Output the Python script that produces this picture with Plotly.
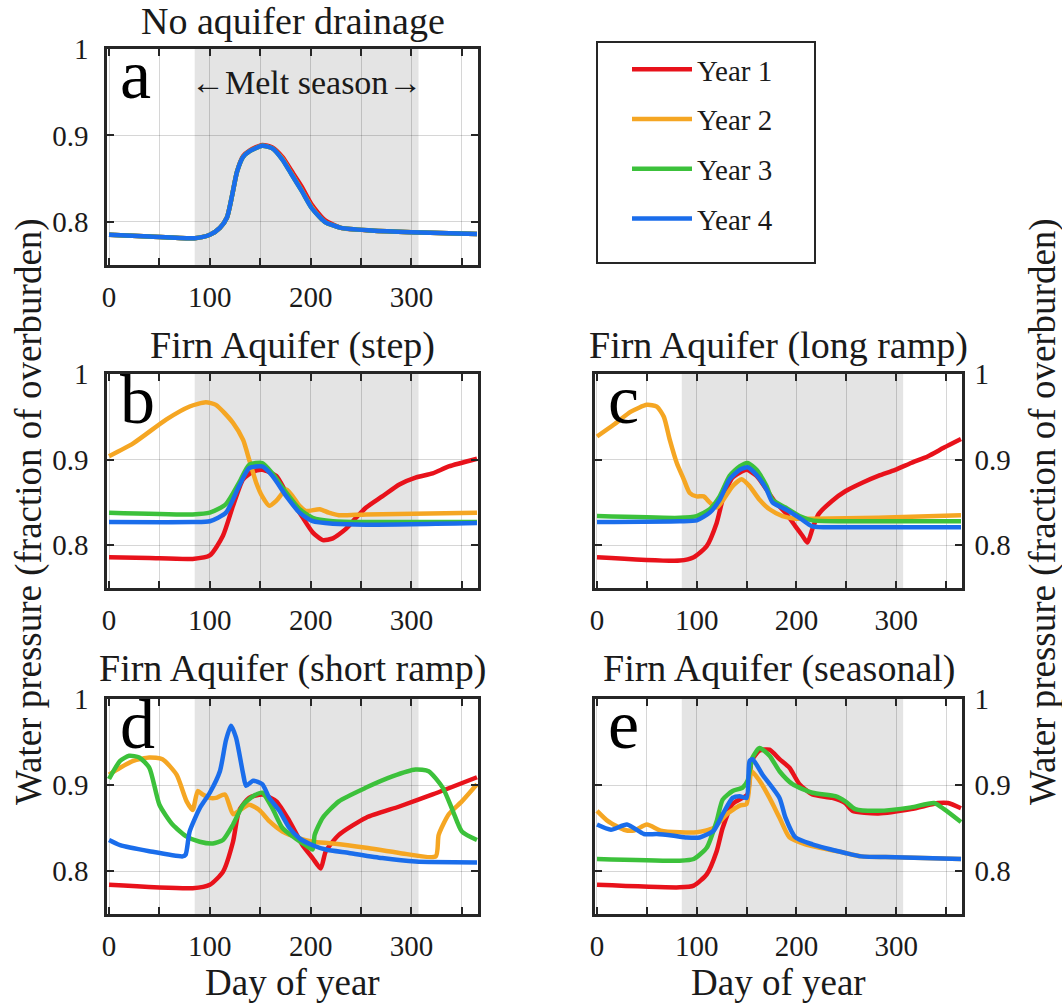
import plotly.graph_objects as go

# ---------------- data ----------------
years = ["Year 1", "Year 2", "Year 3", "Year 4"]
colors = ["#E8121B", "#F5A623", "#3CC13B", "#1A6DEB"]

# Panel a: no aquifer drainage
a_day = [0, 40, 85, 100, 110, 117, 122, 127, 133, 140, 152, 162, 172, 181, 191, 201, 214, 230, 260, 300, 365]
a_y1 = [0.785, 0.783, 0.781, 0.785, 0.793, 0.805, 0.830, 0.858, 0.876, 0.883, 0.889, 0.886, 0.875, 0.859, 0.841, 0.820, 0.802, 0.793, 0.790, 0.788, 0.786]
a_y2 = [0.785, 0.783, 0.781, 0.785, 0.793, 0.805, 0.830, 0.858, 0.875, 0.882, 0.888, 0.885, 0.873, 0.856, 0.837, 0.817, 0.800, 0.793, 0.790, 0.788, 0.786]
a_y3 = [0.785, 0.783, 0.781, 0.785, 0.793, 0.805, 0.830, 0.858, 0.875, 0.882, 0.888, 0.885, 0.872, 0.855, 0.836, 0.816, 0.800, 0.793, 0.790, 0.788, 0.786]
a_y4 = [0.785, 0.783, 0.781, 0.785, 0.793, 0.805, 0.830, 0.858, 0.875, 0.882, 0.888, 0.885, 0.872, 0.855, 0.836, 0.816, 0.800, 0.793, 0.790, 0.788, 0.786]

# Panel b: step
b_day_y1 = [0, 40, 83, 100, 113, 123, 133, 143, 152, 166, 176, 189, 202, 212, 222, 235, 245, 255, 271, 288, 304, 321, 337, 365]
b_y1 = [0.786, 0.785, 0.784, 0.788, 0.811, 0.846, 0.877, 0.886, 0.888, 0.881, 0.861, 0.838, 0.815, 0.806, 0.808, 0.819, 0.832, 0.844, 0.857, 0.871, 0.879, 0.884, 0.892, 0.901]
b_day_y2 = [0, 24, 57, 80, 96, 106, 123, 133, 139, 146, 152, 159, 166, 176, 189, 195, 209, 218, 228, 255, 365]
b_y2 = [0.904, 0.919, 0.947, 0.962, 0.967, 0.964, 0.943, 0.923, 0.900, 0.873, 0.857, 0.846, 0.852, 0.865, 0.846, 0.840, 0.842, 0.838, 0.835, 0.836, 0.838]
b_day_y34 = [0, 83, 100, 116, 129, 139, 152, 162, 176, 189, 202, 222, 255, 365]
b_y3 = [0.838, 0.836, 0.838, 0.848, 0.873, 0.894, 0.896, 0.884, 0.861, 0.842, 0.832, 0.828, 0.827, 0.827]
b_y4 = [0.827, 0.827, 0.828, 0.838, 0.869, 0.890, 0.892, 0.881, 0.857, 0.838, 0.828, 0.825, 0.824, 0.826]

# Panel c: long ramp
c_day_y1 = [0, 83, 97, 110, 120, 126, 136, 150, 160, 170, 179, 189, 199, 206, 211, 216, 222, 236, 249, 266, 282, 299, 315, 332, 348, 365]
c_y1 = [0.786, 0.782, 0.786, 0.799, 0.826, 0.853, 0.879, 0.888, 0.881, 0.865, 0.850, 0.838, 0.822, 0.811, 0.803, 0.819, 0.836, 0.852, 0.863, 0.873, 0.881, 0.888, 0.896, 0.904, 0.914, 0.924]
c_day_y2 = [0, 17, 34, 50, 60, 67, 73, 80, 87, 93, 100, 107, 113, 120, 126, 136, 145, 153, 163, 173, 186, 199, 216, 282, 365]
c_y2 = [0.927, 0.941, 0.956, 0.964, 0.962, 0.950, 0.923, 0.896, 0.877, 0.861, 0.857, 0.857, 0.850, 0.844, 0.852, 0.869, 0.877, 0.869, 0.853, 0.842, 0.834, 0.831, 0.831, 0.832, 0.835]
c_day_y34 = [0, 83, 100, 113, 123, 133, 143, 151, 160, 170, 176, 189, 203, 216, 249, 365]
c_y3 = [0.834, 0.832, 0.834, 0.842, 0.857, 0.881, 0.892, 0.896, 0.888, 0.869, 0.853, 0.844, 0.834, 0.829, 0.828, 0.828]
c_y4 = [0.827, 0.828, 0.829, 0.838, 0.853, 0.877, 0.888, 0.891, 0.882, 0.865, 0.850, 0.842, 0.832, 0.822, 0.821, 0.821]

# Panel d: short ramp
d_day_y1 = [0, 83, 100, 113, 123, 129, 139, 152, 166, 179, 192, 202, 210, 215, 228, 255, 288, 321, 365]
d_y1 = [0.784, 0.780, 0.784, 0.799, 0.834, 0.870, 0.885, 0.889, 0.881, 0.858, 0.830, 0.815, 0.803, 0.823, 0.842, 0.862, 0.875, 0.889, 0.909]
d_day_y2 = [0, 11, 24, 40, 53, 67, 77, 83, 88, 93, 100, 106, 115, 123, 129, 139, 149, 159, 172, 189, 202, 222, 255, 288, 324, 327, 337, 350, 365]
d_y2 = [0.912, 0.920, 0.928, 0.932, 0.930, 0.912, 0.881, 0.871, 0.893, 0.889, 0.885, 0.885, 0.889, 0.866, 0.870, 0.877, 0.871, 0.858, 0.846, 0.838, 0.834, 0.832, 0.827, 0.821, 0.817, 0.842, 0.866, 0.881, 0.901]
d_day_y3 = [0, 11, 20, 30, 40, 50, 63, 77, 90, 103, 113, 123, 133, 143, 152, 162, 172, 185, 195, 202, 204, 212, 228, 255, 281, 304, 317, 331, 341, 350, 365]
d_y3 = [0.907, 0.928, 0.934, 0.932, 0.920, 0.877, 0.854, 0.840, 0.834, 0.832, 0.836, 0.854, 0.877, 0.887, 0.891, 0.873, 0.850, 0.838, 0.830, 0.825, 0.842, 0.862, 0.881, 0.897, 0.910, 0.918, 0.916, 0.897, 0.870, 0.846, 0.836]
d_day_y4 = [0, 11, 40, 73, 76, 80, 90, 100, 110, 116, 121, 126, 133, 136, 143, 152, 159, 169, 179, 189, 202, 215, 238, 271, 304, 365]
d_y4 = [0.836, 0.830, 0.823, 0.817, 0.819, 0.846, 0.873, 0.891, 0.916, 0.952, 0.969, 0.955, 0.913, 0.899, 0.905, 0.901, 0.885, 0.870, 0.850, 0.838, 0.830, 0.825, 0.821, 0.815, 0.811, 0.810]

# Panel e: seasonal
e_day_y1 = [0, 83, 97, 110, 120, 126, 136, 146, 151, 155, 163, 173, 183, 193, 203, 216, 236, 249, 256, 282, 315, 342, 352, 365]
e_y1 = [0.784, 0.781, 0.783, 0.796, 0.823, 0.850, 0.878, 0.885, 0.889, 0.928, 0.940, 0.941, 0.930, 0.920, 0.901, 0.889, 0.885, 0.879, 0.870, 0.867, 0.872, 0.879, 0.879, 0.873]
e_day_y2 = [0, 11, 27, 37, 50, 64, 83, 100, 117, 130, 143, 150, 155, 163, 173, 183, 193, 209, 249, 265, 299, 365]
e_y2 = [0.870, 0.858, 0.848, 0.847, 0.854, 0.847, 0.845, 0.845, 0.850, 0.866, 0.876, 0.878, 0.916, 0.905, 0.885, 0.862, 0.839, 0.831, 0.821, 0.817, 0.816, 0.814]
e_day_y3 = [0, 83, 97, 110, 120, 126, 136, 146, 151, 156, 163, 173, 183, 196, 216, 239, 249, 259, 282, 315, 338, 348, 365]
e_y3 = [0.814, 0.812, 0.814, 0.827, 0.858, 0.883, 0.893, 0.897, 0.905, 0.932, 0.943, 0.934, 0.916, 0.901, 0.891, 0.887, 0.881, 0.872, 0.870, 0.874, 0.879, 0.872, 0.857]
e_day_y4 = [0, 14, 30, 47, 60, 77, 90, 103, 117, 126, 136, 143, 150, 153, 156, 166, 183, 189, 199, 216, 249, 265, 299, 365]
e_y4 = [0.854, 0.848, 0.854, 0.843, 0.843, 0.841, 0.839, 0.839, 0.847, 0.866, 0.885, 0.887, 0.885, 0.928, 0.930, 0.912, 0.885, 0.862, 0.839, 0.831, 0.821, 0.817, 0.816, 0.814]

panel_titles = ["No aquifer drainage", "Firn Aquifer (step)", "Firn Aquifer (long ramp)",
                "Firn Aquifer (short ramp)", "Firn Aquifer (seasonal)"]
panel_letters = ["a", "b", "c", "d", "e"]
melt_start, melt_end = 85, 307
x_tickvals = [0, 50, 100, 150, 200, 250, 300, 350]
x_ticktext = ["0", "", "100", "", "200", "", "300", ""]
y_tickvals = [0.8, 0.9, 1.0]
y_ticktext = ["0.8", "0.9", "1"]
y_label = "Water pressure (fraction of overburden)"
x_label = "Day of year"

panels = [
    [(a_day, a_y1), (a_day, a_y2), (a_day, a_y3), (a_day, a_y4)],
    [(b_day_y1, b_y1), (b_day_y2, b_y2), (b_day_y34, b_y3), (b_day_y34, b_y4)],
    [(c_day_y1, c_y1), (c_day_y2, c_y2), (c_day_y34, c_y3), (c_day_y34, c_y4)],
    [(d_day_y1, d_y1), (d_day_y2, d_y2), (d_day_y3, d_y3), (d_day_y4, d_y4)],
    [(e_day_y1, e_y1), (e_day_y2, e_y2), (e_day_y3, e_y3), (e_day_y4, e_y4)],
]

# ---------------- layout geometry ----------------
W, H = 1062, 1005
FONT = "Liberation Serif"
INK = "#262626"
TXT = "#1a1a1a"

def px_x(p):
    return p / W

def px_y(p):
    return 1 - p / H

# (left, right, top, bottom) in pixels
boxes = [
    (107, 478, 49, 265),
    (107, 478, 374, 588),
    (595, 962, 374, 588),
    (107, 478, 699, 914),
    (595, 962, 699, 914),
]
right_side = [False, False, True, False, True]
title_mid = [21, 345, 345, 668, 668]
LETTER_SIZE = 70

fig = go.Figure()

for i, series in enumerate(panels):
    xa = "x" if i == 0 else f"x{i+1}"
    ya = "y" if i == 0 else f"y{i+1}"
    for j, (xd, yd) in enumerate(series):
        fig.add_trace(go.Scatter(
            x=xd, y=yd, mode="lines", xaxis=xa, yaxis=ya,
            line=dict(color=colors[j], width=4.5, shape="spline", smoothing=0.6),
            name=years[j], legendgroup=years[j], showlegend=(i == 0),
            hoverinfo="skip",
        ))

layout = dict(
    width=W, height=H,
    margin=dict(l=0, r=0, t=0, b=0, autoexpand=False),
    paper_bgcolor="white", plot_bgcolor="white",
    font=dict(family=FONT, size=29, color=TXT),
    showlegend=True,
    legend=dict(
        x=px_x(599), y=px_y(44), xanchor="left", yanchor="top",
        borderwidth=0, bgcolor="rgba(0,0,0,0)",
        font=dict(family=FONT, size=29, color=TXT),
        tracegroupgap=9, itemwidth=60, indentation=28,
    ),
)

shapes = []
annotations = []
for i, (l, r, t, b) in enumerate(boxes):
    k = "" if i == 0 else str(i + 1)
    layout[f"xaxis{k}"] = dict(
        domain=[px_x(l), px_x(r)], anchor=f"y{k}", range=[-2, 366],
        tickvals=x_tickvals, ticktext=x_ticktext, automargin=False,
        ticks="inside", ticklen=7, tickwidth=1.5, tickcolor=INK,
        showline=True, linecolor=INK, linewidth=2.5, mirror="ticks",
        showgrid=True, gridcolor="rgba(0,0,0,0.16)", gridwidth=1.2,
        zeroline=False, ticklabelstandoff=4,
        tickfont=dict(family=FONT, size=29, color=TXT),
    )
    layout[f"yaxis{k}"] = dict(
        domain=[px_y(b), px_y(t)], anchor=f"x{k}", range=[0.75, 1.0],
        tickvals=y_tickvals, ticktext=y_ticktext, automargin=False,
        side="right" if right_side[i] else "left",
        ticks="inside", ticklen=7, tickwidth=1.5, tickcolor=INK,
        showline=True, linecolor=INK, linewidth=2.5, mirror="ticks",
        showgrid=True, gridcolor="rgba(0,0,0,0.16)", gridwidth=1.2,
        zeroline=False, ticklabelstandoff=4 if right_side[i] else 10,
        tickfont=dict(family=FONT, size=29, color=TXT),
    )
    xr = "x" if i == 0 else f"x{i+1}"
    yr = "y" if i == 0 else f"y{i+1}"
    shapes.append(dict(
        type="rect", xref=xr, yref=f"{yr} domain", x0=melt_start, x1=melt_end, y0=0, y1=1,
        fillcolor="#e4e4e4", line=dict(width=0), layer="below",
    ))
    # panel title
    annotations.append(dict(
        text=panel_titles[i], xref="paper", yref="paper",
        x=px_x((l + r) / 2), y=px_y(title_mid[i]), xanchor="center", yanchor="middle",
        showarrow=False, font=dict(family=FONT, size=38, color=TXT),
    ))
    # panel letter (baseline ~52 px below the top of the box)
    annotations.append(dict(
        text=panel_letters[i], xref="paper", yref="paper",
        x=px_x(l + 11), y=px_y(t + 52 - 0.38 * LETTER_SIZE), xanchor="left", yanchor="middle",
        showarrow=False, font=dict(family=FONT, size=LETTER_SIZE, color="black"),
    ))

# legend frame
shapes.append(dict(
    type="rect", xref="paper", yref="paper",
    x0=px_x(597), x1=px_x(815), y0=px_y(263), y1=px_y(42),
    line=dict(color=INK, width=2), fillcolor="rgba(0,0,0,0)", layer="above",
))

annotations.append(dict(
    text="\u2190Melt season\u2192", xref="x", yref="paper",
    x=(melt_start + melt_end) / 2, y=px_y(82), xanchor="center", yanchor="middle",
    showarrow=False, font=dict(family=FONT, size=34, color=TXT),
))
for cx in [(107 + 478) / 2, (595 + 962) / 2]:
    annotations.append(dict(
        text=x_label, xref="paper", yref="paper", x=px_x(cx), y=px_y(982),
        xanchor="center", yanchor="middle", showarrow=False,
        font=dict(family=FONT, size=37, color=TXT),
    ))
for cx in [29, 1043]:
    annotations.append(dict(
        text=y_label, xref="paper", yref="paper", x=px_x(cx), y=px_y(512),
        xanchor="center", yanchor="middle", textangle=-90, showarrow=False,
        font=dict(family=FONT, size=37, color=TXT),
    ))

layout["shapes"] = shapes
layout["annotations"] = annotations
fig.update_layout(**layout)
fig.write_html(
    "out.html",
    config={"displayModeBar": False},
    post_script="document.body.style.margin='0';document.body.style.overflow='hidden';",
)
